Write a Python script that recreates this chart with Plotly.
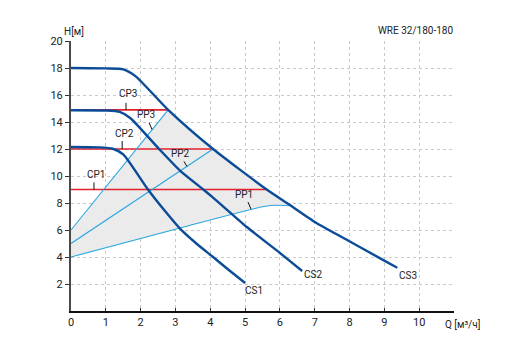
import plotly.graph_objects as go

# ---- data ----
cs1_q = [0, 0.8, 1.2, 1.5, 2.21, 2.7, 3.13, 3.6, 4.08, 4.55, 5.0]
cs1_h = [12.15, 12.12, 12.02, 11.6, 9.0, 7.4, 6.1, 5.0, 4.0, 3.0, 2.07]

cs2_q = [0, 1.0, 1.4, 1.7, 2.53, 3.13, 3.8, 4.08, 5.06, 6.0, 6.64]
cs2_h = [14.87, 14.85, 14.75, 14.3, 12.0, 10.4, 9.0, 8.4, 6.2, 4.3, 2.96]

cs3_q = [0, 1.0, 1.5, 1.85, 2.79, 4.08, 5.62, 6.2, 7.0, 7.93, 8.88, 9.37]
cs3_h = [18.0, 17.97, 17.9, 17.4, 14.9, 12.0, 9.0, 8.0, 6.6, 5.26, 3.9, 3.2]

pp1_q = [0, 3.13, 5.5, 5.85, 6.29]
pp1_h = [4.0, 6.15, 7.72, 7.83, 7.8]
pp2_q = [0, 4.08]
pp2_h = [5.0, 12.0]
pp3_q = [0, 2.79]
pp3_h = [6.0, 14.9]

cp1_q = [0, 5.62]
cp1_h = [9.0, 9.0]
cp2_q = [0, 4.08]
cp2_h = [12.0, 12.0]
cp3_q = [0, 2.79]
cp3_h = [14.9, 14.9]

x_ticks = list(range(0, 12))
x_tick_labels = [str(v) for v in range(0, 11)] + [""]
y_ticks = list(range(2, 21, 2))

# ---- styles ----
C_CS = "#0b4c98"
C_PP = "#2aa6e0"
C_CP = "#e3202b"
C_FILL = "#ebebeb"
TXT = "#222222"
FONT = "Roboto"

fig = go.Figure()

# shaded operating area: PP1 -> CS3 (between 6.29 and 2.79) -> PP3 back
cs3_mid = [(q, h) for q, h in zip(cs3_q, cs3_h) if 2.79 < q < 6.29]
poly_q = pp1_q + [q for q, _ in reversed(cs3_mid)] + list(reversed(pp3_q))
poly_h = pp1_h + [h for _, h in reversed(cs3_mid)] + list(reversed(pp3_h))
fig.add_trace(go.Scatter(x=poly_q, y=poly_h, mode="lines", fill="toself",
                         fillcolor=C_FILL, line=dict(width=0), hoverinfo="skip"))

for q, h in [(cp1_q, cp1_h), (cp2_q, cp2_h), (cp3_q, cp3_h)]:
    fig.add_trace(go.Scatter(x=q, y=h, mode="lines", line=dict(color=C_CP, width=1.6)))

for q, h in [(pp2_q, pp2_h), (pp3_q, pp3_h)]:
    fig.add_trace(go.Scatter(x=q, y=h, mode="lines", line=dict(color=C_PP, width=1.1)))
fig.add_trace(go.Scatter(x=pp1_q, y=pp1_h, mode="lines",
                         line=dict(color=C_PP, width=1.1, shape="spline", smoothing=0.7)))

for q, h in [(cs1_q, cs1_h), (cs2_q, cs2_h), (cs3_q, cs3_h)]:
    fig.add_trace(go.Scatter(x=q, y=h, mode="lines",
                             line=dict(color=C_CS, width=2.4, shape="spline", smoothing=0.6)))

# labels with leader ticks: (text, anchor q, anchor h, tick dx px, tick dy px, text dx px, text dy px)
leader_labels = [
    ("CP3", 1.58, 14.9, 0, 7, 2, 16),
    ("PP3", 2.33, 13.43, -3, 7, -6, 15),
    ("CP2", 1.47, 12.0, 0, 8, 2, 16),
    ("PP2", 3.33, 10.71, -3, 5, -6, 13),
    ("CP1", 0.66, 9.0, 0, 7, 2, 15),
    ("PP1", 5.17, 7.55, -3, 7, -7, 15),
]
annotations = []
shapes = []
for t, x, y, tdx, tdy, dx, dy in leader_labels:
    shapes.append(dict(type="line", xref="x", yref="y",
                       xsizemode="pixel", ysizemode="pixel",
                       xanchor=x, yanchor=y, x0=0, y0=0, x1=tdx, y1=tdy,
                       line=dict(color="#111111", width=1)))
    annotations.append(dict(x=x, y=y, xshift=dx, yshift=dy, text=t, showarrow=False,
                            font=dict(family=FONT, size=10, color=TXT)))
for t, x, y in [("CS1", 5.26, 1.55), ("CS2", 6.95, 2.74), ("CS3", 9.68, 2.66)]:
    annotations.append(dict(x=x, y=y, text=t, showarrow=False,
                            font=dict(family=FONT, size=10, color=TXT)))

annotations.append(dict(x=10.69, y=0, yshift=-13, text="Q [м³/ч]", showarrow=False,
                        xanchor="left", font=dict(family=FONT, size=10, color=TXT)))
annotations.append(dict(xref="paper", yref="paper", x=-0.0235, y=1.035, text="H[м]",
                        showarrow=False, xanchor="left", yanchor="middle",
                        font=dict(family=FONT, size=10, color=TXT)))
annotations.append(dict(xref="paper", yref="paper", x=1.003, y=1.038, text="WRE 32/180-180",
                        showarrow=False, xanchor="right", yanchor="middle",
                        font=dict(family=FONT, size=10, color=TXT)))

fig.update_layout(
    width=514, height=347,
    margin=dict(l=71, r=60, t=41, b=36),
    paper_bgcolor="white", plot_bgcolor="white",
    showlegend=False,
    font=dict(family=FONT, size=11, color=TXT),
    annotations=annotations,
    shapes=shapes,
    xaxis=dict(range=[0, 11], tickvals=x_ticks, ticktext=x_tick_labels,
               showgrid=True, gridcolor="#c9c9c9", griddash="dot", gridwidth=1,
               zeroline=False, showline=True, linecolor="#111111", linewidth=1.5,
               ticks="inside", ticklen=3, tickcolor="#333333",
               tickfont=dict(family=FONT, size=11, color=TXT)),
    yaxis=dict(range=[0, 20], tickvals=y_ticks,
               showgrid=True, gridcolor="#c9c9c9", griddash="dot", gridwidth=1,
               zeroline=False, showline=True, linecolor="#4a4a4a", linewidth=2,
               ticks="outside", ticklen=4, tickcolor="#333333",
               tickfont=dict(family=FONT, size=11, color=TXT)),
)

fig.write_html("out.html")
